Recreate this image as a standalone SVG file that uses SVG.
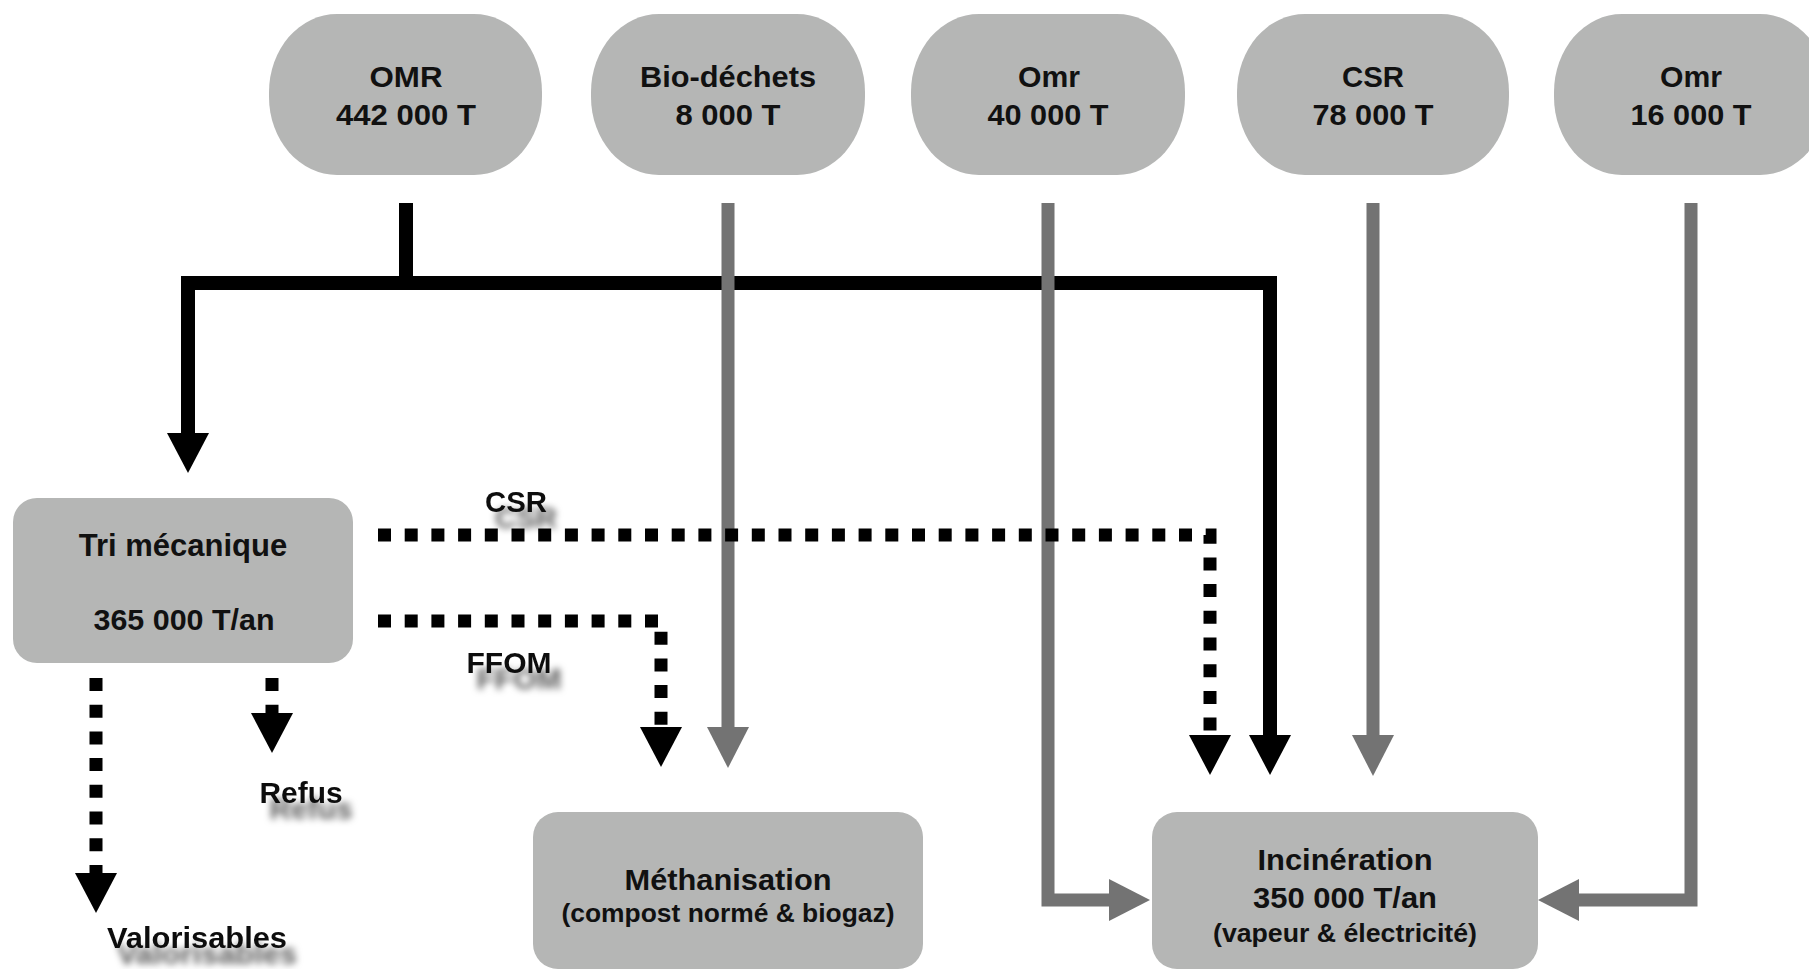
<svg xmlns="http://www.w3.org/2000/svg" width="1809" height="969" viewBox="0 0 1809 969">
<style>
.node{fill:#b5b6b5;stroke:none}
.t{font-family:"Liberation Sans",Arial,sans-serif;font-weight:bold;fill:#111;text-anchor:middle;font-size:30px}
.s{font-size:26px}
.big{font-size:31px}
.blk{fill:none;stroke:#000;stroke-width:14;stroke-linejoin:miter;stroke-linecap:butt}
.gry{fill:none;stroke:#737373;stroke-width:13;stroke-linejoin:miter;stroke-linecap:butt}
.dash{fill:none;stroke:#000;stroke-width:13;stroke-dasharray:13 13.7;stroke-linejoin:miter;stroke-linecap:butt}
.lbl{filter:url(#shadow)}
</style>
<defs>
<marker id="ab" viewBox="0 -21 40 42" refX="0" refY="0" markerWidth="40" markerHeight="42" markerUnits="userSpaceOnUse" orient="auto-start-reverse">
<path d="M0,-21 L40,0 L0,21 Z" fill="#000"/>
</marker>
<marker id="ag" viewBox="0 -21 41 42" refX="0" refY="0" markerWidth="41" markerHeight="42" markerUnits="userSpaceOnUse" orient="auto">
<path d="M0,-21 L41,0 L0,21 Z" fill="#737373"/>
</marker>
<filter id="shadow" x="-20%" y="-30%" width="150%" height="200%">
<feDropShadow dx="10" dy="16" stdDeviation="3.5" flood-color="#000" flood-opacity="0.65"/>
</filter>
</defs>
<rect width="1809" height="969" fill="#fff"/>

<g id="connectors">
<path class="blk" d="M406,203 V284"/>
<path class="blk" d="M188,433 V283 H1270 V735" marker-start="url(#ab)" marker-end="url(#ab)"/>
<path class="gry" d="M728,203 V727" marker-end="url(#ag)"/>
<path class="gry" d="M1048,203 V900 H1109" marker-end="url(#ag)"/>
<path class="gry" d="M1373,203 V735" marker-end="url(#ag)"/>
<path class="gry" d="M1691,203 V900 H1579" marker-end="url(#ag)"/>
<path class="dash" d="M378,535 H1210 V735" marker-end="url(#ab)"/>
<path class="dash" d="M378,621 H661 V727" marker-end="url(#ab)"/>
<path class="dash" d="M96,678 V873" marker-end="url(#ab)"/>
<path class="dash" d="M272,678 V713" marker-end="url(#ab)"/>
</g>

<g id="labels">
<text class="t lbl" x="516" y="512" textLength="62" lengthAdjust="spacingAndGlyphs">CSR</text>
<text class="t lbl" x="509" y="673" textLength="85" lengthAdjust="spacingAndGlyphs">FFOM</text>
<text class="t lbl" x="301" y="803" textLength="83" lengthAdjust="spacingAndGlyphs">Refus</text>
<text class="t lbl" x="197" y="948" textLength="180" lengthAdjust="spacingAndGlyphs">Valorisables</text>
</g>

<g id="n-omr">
<rect class="node" x="269" y="14" width="273" height="161" rx="68" ry="78"/>
<text class="t" x="406" y="87" textLength="73" lengthAdjust="spacingAndGlyphs">OMR</text>
<text class="t" x="406" y="125" textLength="140" lengthAdjust="spacingAndGlyphs">442 000 T</text>
</g>
<g id="n-bio">
<rect class="node" x="591" y="14" width="274" height="161" rx="68" ry="78"/>
<text class="t" x="728" y="87" textLength="176" lengthAdjust="spacingAndGlyphs">Bio-déchets</text>
<text class="t" x="728" y="125" textLength="105" lengthAdjust="spacingAndGlyphs">8 000 T</text>
</g>
<g id="n-omr40">
<rect class="node" x="911" y="14" width="274" height="161" rx="68" ry="78"/>
<text class="t" x="1049" y="87" textLength="62" lengthAdjust="spacingAndGlyphs">Omr</text>
<text class="t" x="1048" y="125" textLength="121" lengthAdjust="spacingAndGlyphs">40 000 T</text>
</g>
<g id="n-csr">
<rect class="node" x="1237" y="14" width="272" height="161" rx="68" ry="78"/>
<text class="t" x="1373" y="87" textLength="62" lengthAdjust="spacingAndGlyphs">CSR</text>
<text class="t" x="1373" y="125" textLength="121" lengthAdjust="spacingAndGlyphs">78 000 T</text>
</g>
<g id="n-omr16">
<rect class="node" x="1554" y="14" width="274" height="161" rx="68" ry="78"/>
<text class="t" x="1691" y="87" textLength="62" lengthAdjust="spacingAndGlyphs">Omr</text>
<text class="t" x="1691" y="125" textLength="121" lengthAdjust="spacingAndGlyphs">16 000 T</text>
</g>
<g id="n-tri">
<rect class="node" x="13" y="498" width="340" height="165" rx="24"/>
<text class="t big" x="183" y="556">Tri mécanique</text>
<text class="t" x="184" y="630" textLength="181" lengthAdjust="spacingAndGlyphs">365 000 T/an</text>
</g>
<g id="n-meth">
<rect class="node" x="533" y="812" width="390" height="157" rx="25"/>
<text class="t" x="728" y="890" textLength="207" lengthAdjust="spacingAndGlyphs">Méthanisation</text>
<text class="t s" x="728" y="922" textLength="333" lengthAdjust="spacingAndGlyphs">(compost normé &amp; biogaz)</text>
</g>
<g id="n-incin">
<rect class="node" x="1152" y="812" width="386" height="157" rx="25"/>
<text class="t" x="1345" y="870" textLength="175" lengthAdjust="spacingAndGlyphs">Incinération</text>
<text class="t" x="1345" y="908" textLength="184" lengthAdjust="spacingAndGlyphs">350 000 T/an</text>
<text class="t s" x="1345" y="942" textLength="264" lengthAdjust="spacingAndGlyphs">(vapeur &amp; électricité)</text>
</g>
</svg>
